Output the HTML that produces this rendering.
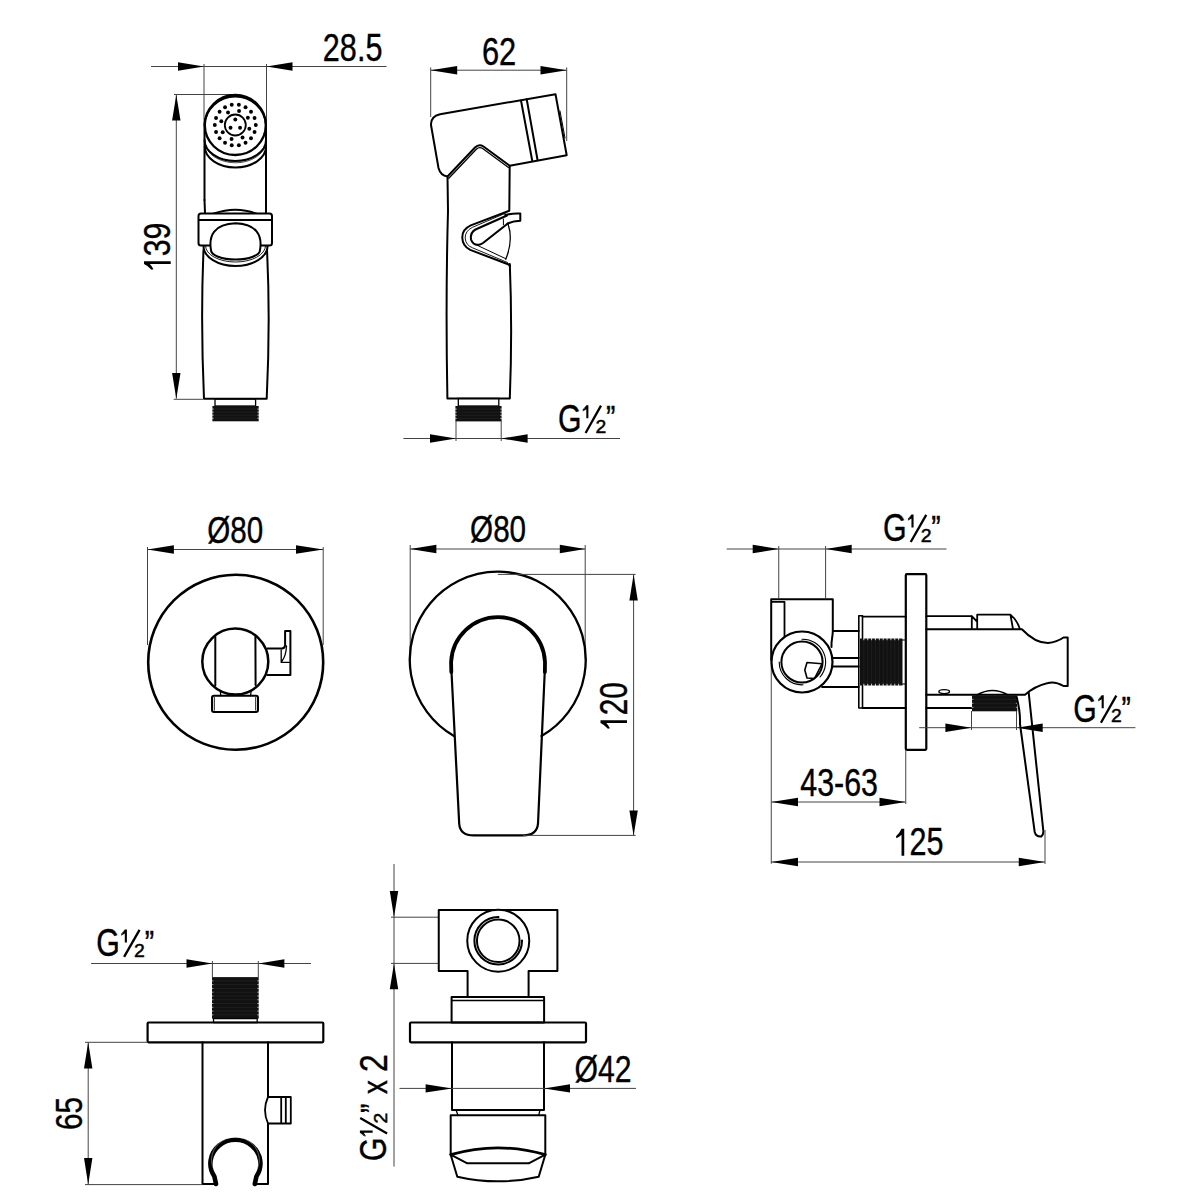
<!DOCTYPE html>
<html><head><meta charset="utf-8"><style>
html,body{margin:0;padding:0;background:#fff;width:1200px;height:1200px;overflow:hidden}
svg{display:block}
text{font-family:"Liberation Sans",sans-serif;fill:#000}
</style></head><body>
<svg width="1200" height="1200" viewBox="0 0 1200 1200">
<rect width="1200" height="1200" fill="#fff"/>
<line fill="none" stroke="#444" stroke-width="1" x1="151.00" y1="66.50" x2="386.50" y2="66.50"/>
<polygon points="204.00,66.50 178.00,70.70 178.00,62.30" fill="#000"/>
<polygon points="266.50,66.50 292.50,62.30 292.50,70.70" fill="#000"/>
<line fill="none" stroke="#444" stroke-width="1" x1="204.00" y1="64.00" x2="204.00" y2="125.00"/>
<line fill="none" stroke="#444" stroke-width="1" x1="266.50" y1="64.00" x2="266.50" y2="125.00"/>
<text transform="translate(322.84 60.95) scale(0.3062 0.3796)" font-size="100" stroke="#000" stroke-width="1.02">28.5</text>
<line fill="none" stroke="#444" stroke-width="1" x1="176.30" y1="94.80" x2="176.30" y2="398.70"/>
<polygon points="176.30,94.80 180.50,120.50 172.10,120.50" fill="#000"/>
<polygon points="176.30,398.70 172.10,373.00 180.50,373.00" fill="#000"/>
<line fill="none" stroke="#444" stroke-width="1" x1="174.00" y1="94.50" x2="235.00" y2="94.50"/>
<line fill="none" stroke="#444" stroke-width="1" x1="173.70" y1="399.30" x2="203.00" y2="399.30"/>
<text transform="translate(170.45 256.34) rotate(-90) scale(0.3034 0.3754)" font-size="100" stroke="#000" stroke-width="1.03">39</text>
<path d=" M144.00,264.07 L144.00,261.30 L170.70,261.30 L170.70,264.07 L149.87,264.07 Q152.01,266.34 153.48,269.28 L151.48,269.70 Q148.54,266.17 144.00,264.07 Z" fill="#000"/>
<path fill="none" stroke="#000" stroke-linejoin="round" stroke-linecap="round" stroke-width="2" d="M204.5,200 L204.5,125 A30.8,30.3 0 0 1 266,125 L266,200" />
<ellipse cx="235.3" cy="125" rx="30.5" ry="30" fill="none" stroke="#000" stroke-linejoin="round" stroke-linecap="round" stroke-width="2.3"/>
<path fill="none" stroke="#000" stroke-linejoin="round" stroke-linecap="round" stroke-width="2" d="M204.6,140 A30.7,21 0 0 0 266,140" />
<path fill="none" stroke="#000" stroke-linejoin="round" stroke-linecap="round" stroke-width="2" d="M204.8,146.5 A30.6,21 0 0 0 266,146.5" />
<path fill="none" stroke="#000" stroke-linejoin="round" stroke-linecap="round" d="M205,143.5 A30.5,21 0 0 0 265.8,143.5" stroke-width="0.7"/>
<circle cx="235.3" cy="125" r="10.5" fill="none" stroke="#000" stroke-linejoin="round" stroke-linecap="round" stroke-width="1.8"/>
<circle cx="238.86" cy="104.81" r="1.95"/>
<circle cx="245.55" cy="107.25" r="1.95"/>
<circle cx="251.00" cy="111.82" r="1.95"/>
<circle cx="254.56" cy="117.99" r="1.95"/>
<circle cx="255.80" cy="125.00" r="1.95"/>
<circle cx="254.56" cy="132.01" r="1.95"/>
<circle cx="251.00" cy="138.18" r="1.95"/>
<circle cx="245.55" cy="142.75" r="1.95"/>
<circle cx="238.86" cy="145.19" r="1.95"/>
<circle cx="231.74" cy="145.19" r="1.95"/>
<circle cx="225.05" cy="142.75" r="1.95"/>
<circle cx="219.60" cy="138.18" r="1.95"/>
<circle cx="216.04" cy="132.01" r="1.95"/>
<circle cx="214.80" cy="125.00" r="1.95"/>
<circle cx="216.04" cy="117.99" r="1.95"/>
<circle cx="219.60" cy="111.82" r="1.95"/>
<circle cx="225.05" cy="107.25" r="1.95"/>
<circle cx="231.74" cy="104.81" r="1.95"/>
<circle cx="239.05" cy="110.99" r="1.95"/>
<circle cx="247.86" cy="117.75" r="1.95"/>
<circle cx="249.31" cy="128.75" r="1.95"/>
<circle cx="242.55" cy="137.56" r="1.95"/>
<circle cx="231.55" cy="139.01" r="1.95"/>
<circle cx="222.74" cy="132.25" r="1.95"/>
<circle cx="221.29" cy="121.25" r="1.95"/>
<circle cx="228.05" cy="112.44" r="1.95"/>
<circle cx="235.30" cy="119.50" r="1.95"/>
<circle cx="240.06" cy="127.75" r="1.95"/>
<circle cx="230.54" cy="127.75" r="1.95"/>
<path fill="none" stroke="#000" stroke-linejoin="round" stroke-linecap="round" stroke-width="2" d="M204.5,200 L205,213.5" />
<path fill="none" stroke="#000" stroke-linejoin="round" stroke-linecap="round" stroke-width="2" d="M266,200 L266,213.5" />
<path fill="none" stroke="#000" stroke-linejoin="round" stroke-linecap="round" stroke-width="2" d="M214,213.5 Q235.5,206 256,213.5" />
<path fill="none" stroke="#000" stroke-linejoin="round" stroke-linecap="round" stroke-width="2" d="M203.5,250 Q200.5,320 204,398.7 L266.7,398.7 Q270.5,320 267,250" />
<path fill="none" stroke="#000" stroke-linejoin="round" stroke-linecap="round" stroke-width="2" d="M203.5,246 A32,20 0 0 0 267.5,246" style="fill:#fff"/>
<path fill="none" stroke="#000" stroke-linejoin="round" stroke-linecap="round" d="M205.5,246 A30,16 0 0 0 265.5,246" stroke-width="0.9"/>
<rect x="198.5" y="213.5" width="73.5" height="32" rx="2.5" fill="none" stroke="#000" stroke-linejoin="round" stroke-linecap="round" stroke-width="2" style="fill:#fff"/>
<path fill="none" stroke="#000" stroke-linejoin="round" stroke-linecap="round" stroke-width="2" d="M199,220 L271.5,220" />
<path fill="none" stroke="#000" stroke-linejoin="round" stroke-linecap="round" stroke-width="2" d="M211,250 C208.5,236 214,224 235.5,223.3 C257,224 262.5,236 260,250 A24.5,9.5 0 0 1 211,250 Z" style="fill:#fff"/>
<rect x="215" y="399" width="40.6" height="7" fill="none" stroke="#000" stroke-width="1.3"/>
<rect x="212.40" y="406.00" width="46.30" height="15.30" fill="#111"/>
<line x1="211.90" y1="409.06" x2="213.90" y2="409.06" stroke="#fff" stroke-width="0.6"/>
<line x1="257.20" y1="409.06" x2="259.20" y2="409.06" stroke="#fff" stroke-width="0.6"/>
<line x1="214.40" y1="409.06" x2="256.70" y2="409.06" stroke="#333" stroke-width="0.4"/>
<line x1="211.90" y1="412.12" x2="213.90" y2="412.12" stroke="#fff" stroke-width="0.6"/>
<line x1="257.20" y1="412.12" x2="259.20" y2="412.12" stroke="#fff" stroke-width="0.6"/>
<line x1="214.40" y1="412.12" x2="256.70" y2="412.12" stroke="#333" stroke-width="0.4"/>
<line x1="211.90" y1="415.18" x2="213.90" y2="415.18" stroke="#fff" stroke-width="0.6"/>
<line x1="257.20" y1="415.18" x2="259.20" y2="415.18" stroke="#fff" stroke-width="0.6"/>
<line x1="214.40" y1="415.18" x2="256.70" y2="415.18" stroke="#333" stroke-width="0.4"/>
<line x1="211.90" y1="418.24" x2="213.90" y2="418.24" stroke="#fff" stroke-width="0.6"/>
<line x1="257.20" y1="418.24" x2="259.20" y2="418.24" stroke="#fff" stroke-width="0.6"/>
<line x1="214.40" y1="418.24" x2="256.70" y2="418.24" stroke="#333" stroke-width="0.4"/>
<line fill="none" stroke="#444" stroke-width="1" x1="430.70" y1="70.20" x2="566.70" y2="70.20"/>
<polygon points="430.70,70.20 457.20,66.00 457.20,74.40" fill="#000"/>
<polygon points="566.70,70.20 540.50,74.40 540.50,66.00" fill="#000"/>
<line fill="none" stroke="#444" stroke-width="1" x1="430.70" y1="67.50" x2="430.70" y2="117.00"/>
<line fill="none" stroke="#444" stroke-width="1" x1="566.70" y1="67.50" x2="566.70" y2="141.00"/>
<text transform="translate(481.88 64.70) scale(0.3084 0.3789)" font-size="100" stroke="#000" stroke-width="1.02">62</text>
<path fill="none" stroke="#000" stroke-linejoin="round" stroke-linecap="round" stroke-width="2" d="M555.5,94.2 L440,114.2 Q430.5,116.5 431,125 L438.5,168 Q440.5,175.5 447.5,176.5 L475,147.5 Q479,143.5 483.5,146.5 L509.7,165.7 L566.7,155.2 Z" />
<path fill="none" stroke="#000" stroke-linejoin="round" stroke-linecap="round" d="M448.8,178.3 L476.3,149.2 Q479.2,146.5 482.3,148.3 L508.5,167.5" stroke-width="1.3"/>
<path fill="none" stroke="#000" stroke-linejoin="round" stroke-linecap="round" stroke-width="2" d="M521,100.5 L532.2,160.5" />
<path fill="none" stroke="#000" stroke-linejoin="round" stroke-linecap="round" stroke-width="2" d="M526.7,99.3 L537.5,159.7" />
<path fill="none" stroke="#000" stroke-linejoin="round" stroke-linecap="round" d="M560,111 L565,138" stroke-width="1"/>
<path fill="none" stroke="#000" stroke-linejoin="round" stroke-linecap="round" stroke-width="2" d="M447.5,176.5 L448,211 Q445.5,300 447.4,398.4 L509.8,398.4 Q512.5,330 509.8,264" />
<path fill="none" stroke="#000" stroke-linejoin="round" stroke-linecap="round" stroke-width="2" d="M509.7,165.7 L509.3,210.8 L470.75,225.4 Q462,229.5 462.3,237.7 Q462.5,246 470.2,249.9 L508.7,264.5 L510,266" />
<path fill="none" stroke="#000" stroke-linejoin="round" stroke-linecap="round" d="M505.5,213.2 L472.5,227.3 Q465,231 465.2,238 Q465.5,245 472.5,247.8 L507.5,262.5" stroke-width="0.9"/>
<path fill="none" stroke="#000" stroke-linejoin="round" stroke-linecap="round" d="M507,215.5 L475.5,229.5 Q470,232.5 471,239.5 Q473,245.5 479,244.8 Q481,244.5 483,243 L507.5,223.7" stroke-width="2.1"/>
<path fill="none" stroke="#000" stroke-linejoin="round" stroke-linecap="round" d="M505.2,215 Q513,213 520.3,213.5 L520.3,220.75 Q513,221 507.5,223.7" stroke-width="2"/>
<path fill="none" stroke="#000" stroke-linejoin="round" stroke-linecap="round" d="M503.4,219 L503.4,224.8" stroke-width="1"/>
<path fill="none" stroke="#000" stroke-linejoin="round" stroke-linecap="round" d="M508.1,224.25 Q513.5,240 505.75,259.25" stroke-width="1.3"/>
<path fill="none" stroke="#000" stroke-linejoin="round" stroke-linecap="round" d="M478.3,245.8 L505.75,258.7" stroke-width="1"/>
<rect x="458.3" y="398.4" width="40.5" height="7.6" fill="none" stroke="#000" stroke-width="1.3"/>
<rect x="455.40" y="406.00" width="46.20" height="15.40" fill="#111"/>
<line x1="454.90" y1="409.08" x2="456.90" y2="409.08" stroke="#fff" stroke-width="0.6"/>
<line x1="500.10" y1="409.08" x2="502.10" y2="409.08" stroke="#fff" stroke-width="0.6"/>
<line x1="457.40" y1="409.08" x2="499.60" y2="409.08" stroke="#333" stroke-width="0.4"/>
<line x1="454.90" y1="412.16" x2="456.90" y2="412.16" stroke="#fff" stroke-width="0.6"/>
<line x1="500.10" y1="412.16" x2="502.10" y2="412.16" stroke="#fff" stroke-width="0.6"/>
<line x1="457.40" y1="412.16" x2="499.60" y2="412.16" stroke="#333" stroke-width="0.4"/>
<line x1="454.90" y1="415.24" x2="456.90" y2="415.24" stroke="#fff" stroke-width="0.6"/>
<line x1="500.10" y1="415.24" x2="502.10" y2="415.24" stroke="#fff" stroke-width="0.6"/>
<line x1="457.40" y1="415.24" x2="499.60" y2="415.24" stroke="#333" stroke-width="0.4"/>
<line x1="454.90" y1="418.32" x2="456.90" y2="418.32" stroke="#fff" stroke-width="0.6"/>
<line x1="500.10" y1="418.32" x2="502.10" y2="418.32" stroke="#fff" stroke-width="0.6"/>
<line x1="457.40" y1="418.32" x2="499.60" y2="418.32" stroke="#333" stroke-width="0.4"/>
<line fill="none" stroke="#444" stroke-width="1" x1="403.40" y1="438.50" x2="620.00" y2="438.50"/>
<polygon points="456.00,438.50 430.00,442.70 430.00,434.30" fill="#000"/>
<polygon points="501.20,438.50 527.60,434.30 527.60,442.70" fill="#000"/>
<line fill="none" stroke="#444" stroke-width="1" x1="456.00" y1="421.00" x2="456.00" y2="441.00"/>
<line fill="none" stroke="#444" stroke-width="1" x1="501.20" y1="421.00" x2="501.20" y2="441.00"/>
<text transform="translate(557.96 432.14) scale(0.3023 0.3852)" font-size="100" stroke="#000" stroke-width="1.02">G</text>
<polygon points="586.30,405.30 588.40,405.30 588.40,418.30 586.30,418.30 586.30,409.20 582.80,411.60" fill="#000"/>
<polygon points="586.30,405.30 582.80,409.60 582.80,411.60" fill="#000"/>
<text transform="translate(595.58 432.75) scale(0.1935 0.1886)" font-size="100" stroke="#000" stroke-width="2.62">2</text>
<line x1="585.60" y1="433.00" x2="601.00" y2="405.60" stroke="#000" stroke-width="2.30"/>
<text transform="translate(606.08 429.90) scale(0.2808 0.3435)" font-size="100" stroke="#000" stroke-width="1.28">”</text>
<line fill="none" stroke="#444" stroke-width="1" x1="147.50" y1="549.50" x2="323.20" y2="549.50"/>
<polygon points="147.50,549.50 173.90,545.30 173.90,553.70" fill="#000"/>
<polygon points="323.20,549.50 296.00,553.70 296.00,545.30" fill="#000"/>
<line fill="none" stroke="#444" stroke-width="1" x1="147.50" y1="547.00" x2="147.50" y2="645.00"/>
<line fill="none" stroke="#444" stroke-width="1" x1="323.20" y1="547.00" x2="323.20" y2="645.00"/>
<text transform="translate(207.19 543.13) scale(0.2959 0.3647)" font-size="100" stroke="#000" stroke-width="1.06">Ø80</text>
<circle cx="235.7" cy="662.3" r="87.5" fill="none" stroke="#000" stroke-linejoin="round" stroke-linecap="round" stroke-width="2.6"/>
<circle cx="235.3" cy="661.6" r="33" fill="none" stroke="#000" stroke-linejoin="round" stroke-linecap="round" stroke-width="2.5"/>
<path fill="none" stroke="#000" stroke-linejoin="round" stroke-linecap="round" stroke-width="2" d="M215.3,637 L215.3,685.6" />
<path fill="none" stroke="#000" stroke-linejoin="round" stroke-linecap="round" stroke-width="2" d="M255.4,637 L255.6,685" />
<path fill="none" stroke="#000" stroke-linejoin="round" stroke-linecap="round" stroke-width="2" d="M267.5,648.4 L282,648.4 Q284.6,648.2 285.1,645.5 M285.1,631 L290.4,631 L290.4,675.1 L267.5,675.1 M285.1,631 L285.1,645.5" />
<path fill="none" stroke="#000" stroke-linejoin="round" stroke-linecap="round" d="M281.2,650 L281.2,662.4 L289.5,662.4 M286.5,646 Q286,656 282,661" stroke-width="1.3"/>
<rect x="212" y="695.7" width="46" height="16.2" rx="2" fill="none" stroke="#000" stroke-linejoin="round" stroke-linecap="round" stroke-width="2"/>
<path fill="none" stroke="#000" stroke-linejoin="round" stroke-linecap="round" d="M214.3,697.5 L214.3,710.2 M255.7,697.5 L255.7,710.2" stroke-width="0.9"/>
<path fill="none" stroke="#000" stroke-linejoin="round" stroke-linecap="round" d="M220.4,692 L220.8,695.7 M251,692 L250.6,695.7" stroke-width="1.3"/>
<line fill="none" stroke="#444" stroke-width="1" x1="410.20" y1="549.00" x2="585.20" y2="549.00"/>
<polygon points="410.20,549.00 436.40,544.80 436.40,553.20" fill="#000"/>
<polygon points="585.20,549.00 559.80,553.20 559.80,544.80" fill="#000"/>
<line fill="none" stroke="#444" stroke-width="1" x1="410.20" y1="545.00" x2="410.20" y2="660.00"/>
<line fill="none" stroke="#444" stroke-width="1" x1="585.20" y1="545.00" x2="585.20" y2="660.00"/>
<text transform="translate(470.09 542.03) scale(0.2964 0.3660)" font-size="100" stroke="#000" stroke-width="1.06">Ø80</text>
<path fill="none" stroke="#000" stroke-linejoin="round" stroke-linecap="round" d="M454,736 A88,88 0 1 1 541.5,736" stroke-width="2.3"/>
<path fill="none" stroke="#000" stroke-linejoin="round" stroke-linecap="round" d="M451.3,672 L451.1,662 A47,47 0 0 1 545,662 L544.9,672" stroke-width="3.8" stroke-linecap="butt"/>
<path fill="none" stroke="#000" stroke-linejoin="round" stroke-linecap="round" d="M451.3,668 L459.2,823.7 Q460,835.4 473.8,835.4 L523.3,835.4 Q537,835.4 538,823.7 L544.9,668" stroke-width="2.2"/>
<line fill="none" stroke="#444" stroke-width="1" x1="633.60" y1="574.40" x2="633.60" y2="835.40"/>
<polygon points="633.60,574.40 637.80,600.60 629.40,600.60" fill="#000"/>
<polygon points="633.60,835.40 629.40,810.60 637.80,810.60" fill="#000"/>
<line fill="none" stroke="#444" stroke-width="1" x1="497.80" y1="574.40" x2="635.60" y2="574.40"/>
<line fill="none" stroke="#444" stroke-width="1" x1="523.00" y1="835.40" x2="635.60" y2="835.40"/>
<text transform="translate(627.20 715.32) rotate(-90) scale(0.2980 0.3789)" font-size="100" stroke="#000" stroke-width="1.03">20</text>
<path d=" M600.50,723.05 L600.50,720.25 L627.00,720.25 L627.00,723.05 L606.33,723.05 Q608.45,725.35 609.91,728.33 L607.92,728.75 Q605.00,725.18 600.50,723.05 Z" fill="#000"/>
<line fill="none" stroke="#444" stroke-width="1" x1="726.70" y1="549.00" x2="946.50" y2="549.00"/>
<polygon points="778.75,549.00 752.70,553.20 752.70,544.80" fill="#000"/>
<polygon points="825.60,549.00 851.70,544.80 851.70,553.20" fill="#000"/>
<line fill="none" stroke="#444" stroke-width="1" x1="778.75" y1="546.00" x2="778.75" y2="598.00"/>
<line fill="none" stroke="#444" stroke-width="1" x1="825.60" y1="546.00" x2="825.60" y2="598.00"/>
<text transform="translate(882.96 541.15) scale(0.3040 0.3811)" font-size="100" stroke="#000" stroke-width="1.02">G</text>
<polygon points="911.45,514.60 913.56,514.60 913.56,527.46 911.45,527.46 911.45,518.46 907.93,520.83" fill="#000"/>
<polygon points="911.45,514.60 907.93,518.85 907.93,520.83" fill="#000"/>
<text transform="translate(920.78 541.75) scale(0.1946 0.1865)" font-size="100" stroke="#000" stroke-width="2.62">2</text>
<line x1="910.74" y1="542.00" x2="926.23" y2="514.89" stroke="#000" stroke-width="2.31"/>
<text transform="translate(931.33 538.93) scale(0.2824 0.3397)" font-size="100" stroke="#000" stroke-width="1.29">”</text>
<path fill="none" stroke="#000" stroke-linejoin="round" stroke-linecap="round" stroke-width="2" d="M771.2,660 L771.2,599.2 L832.8,599.2 L832.8,631 C832.8,637 831,641 831.5,647" stroke-linejoin="miter"/>
<path fill="none" stroke="#000" stroke-linejoin="round" stroke-linecap="round" d="M772,601.8 L784.5,601.8 L784.5,636" stroke-width="1.8"/>
<line fill="none" stroke="#444" stroke-width="1" x1="771.25" y1="660.00" x2="771.25" y2="863.75"/>
<path fill="none" stroke="#000" stroke-linejoin="round" stroke-linecap="round" d="M832.8,631 L858.8,631 M832,658 L858.8,658 M832.5,666.5 L858.8,666.5 M822,687 L858.8,687" stroke-width="1.8"/>
<circle cx="802" cy="662" r="30.5" fill="none" stroke="#000" stroke-linejoin="round" stroke-linecap="round" style="fill:#fff" stroke-width="2.2"/>
<circle cx="802" cy="662" r="20.6" fill="none" stroke="#000" stroke-linejoin="round" stroke-linecap="round" stroke-width="2"/>
<path fill="none" stroke="#000" stroke-linejoin="round" stroke-linecap="round" d="M802,639.2 A22.8,22.8 0 0 1 820,677" stroke-width="1.1"/>
<path fill="none" stroke="#000" stroke-linejoin="round" stroke-linecap="round" d="M779.2,662 A22.8,22.8 0 0 0 803,684.8" stroke-width="1.1"/>
<path fill="none" stroke="#000" stroke-linejoin="round" stroke-linecap="round" d="M807,662.5 L822,663.8 L814.5,678.5 L807,678 L804.8,670 Z" stroke-width="1.6"/>
<rect x="858.8" y="615.8" width="3.7" height="92.2" fill="none" stroke="#000" stroke-linejoin="round" stroke-linecap="round" stroke-width="1.6"/>
<path fill="none" stroke="#000" stroke-linejoin="round" stroke-linecap="round" d="M862.5,616.6 L905.8,616.6 M862.5,708 L905.8,708" stroke-width="1.8"/>
<rect x="860.00" y="638.50" width="42.50" height="47.00" fill="#111"/>
<line x1="863.86" y1="638.00" x2="863.86" y2="640.30" stroke="#fff" stroke-width="0.8"/>
<line x1="863.86" y1="683.70" x2="863.86" y2="686.00" stroke="#fff" stroke-width="0.8"/>
<line x1="863.86" y1="640.50" x2="863.86" y2="683.50" stroke="#333" stroke-width="0.4"/>
<line x1="867.73" y1="638.00" x2="867.73" y2="640.30" stroke="#fff" stroke-width="0.8"/>
<line x1="867.73" y1="683.70" x2="867.73" y2="686.00" stroke="#fff" stroke-width="0.8"/>
<line x1="867.73" y1="640.50" x2="867.73" y2="683.50" stroke="#333" stroke-width="0.4"/>
<line x1="871.59" y1="638.00" x2="871.59" y2="640.30" stroke="#fff" stroke-width="0.8"/>
<line x1="871.59" y1="683.70" x2="871.59" y2="686.00" stroke="#fff" stroke-width="0.8"/>
<line x1="871.59" y1="640.50" x2="871.59" y2="683.50" stroke="#333" stroke-width="0.4"/>
<line x1="875.45" y1="638.00" x2="875.45" y2="640.30" stroke="#fff" stroke-width="0.8"/>
<line x1="875.45" y1="683.70" x2="875.45" y2="686.00" stroke="#fff" stroke-width="0.8"/>
<line x1="875.45" y1="640.50" x2="875.45" y2="683.50" stroke="#333" stroke-width="0.4"/>
<line x1="879.32" y1="638.00" x2="879.32" y2="640.30" stroke="#fff" stroke-width="0.8"/>
<line x1="879.32" y1="683.70" x2="879.32" y2="686.00" stroke="#fff" stroke-width="0.8"/>
<line x1="879.32" y1="640.50" x2="879.32" y2="683.50" stroke="#333" stroke-width="0.4"/>
<line x1="883.18" y1="638.00" x2="883.18" y2="640.30" stroke="#fff" stroke-width="0.8"/>
<line x1="883.18" y1="683.70" x2="883.18" y2="686.00" stroke="#fff" stroke-width="0.8"/>
<line x1="883.18" y1="640.50" x2="883.18" y2="683.50" stroke="#333" stroke-width="0.4"/>
<line x1="887.05" y1="638.00" x2="887.05" y2="640.30" stroke="#fff" stroke-width="0.8"/>
<line x1="887.05" y1="683.70" x2="887.05" y2="686.00" stroke="#fff" stroke-width="0.8"/>
<line x1="887.05" y1="640.50" x2="887.05" y2="683.50" stroke="#333" stroke-width="0.4"/>
<line x1="890.91" y1="638.00" x2="890.91" y2="640.30" stroke="#fff" stroke-width="0.8"/>
<line x1="890.91" y1="683.70" x2="890.91" y2="686.00" stroke="#fff" stroke-width="0.8"/>
<line x1="890.91" y1="640.50" x2="890.91" y2="683.50" stroke="#333" stroke-width="0.4"/>
<line x1="894.77" y1="638.00" x2="894.77" y2="640.30" stroke="#fff" stroke-width="0.8"/>
<line x1="894.77" y1="683.70" x2="894.77" y2="686.00" stroke="#fff" stroke-width="0.8"/>
<line x1="894.77" y1="640.50" x2="894.77" y2="683.50" stroke="#333" stroke-width="0.4"/>
<line x1="898.64" y1="638.00" x2="898.64" y2="640.30" stroke="#fff" stroke-width="0.8"/>
<line x1="898.64" y1="683.70" x2="898.64" y2="686.00" stroke="#fff" stroke-width="0.8"/>
<line x1="898.64" y1="640.50" x2="898.64" y2="683.50" stroke="#333" stroke-width="0.4"/>
<path fill="none" stroke="#000" stroke-linejoin="round" stroke-linecap="round" d="M902.5,640 L905.8,640 M902.5,684 L905.8,684" stroke-width="1.2"/>
<rect x="905.8" y="574.2" width="20.5" height="175.6" rx="1" fill="none" stroke="#000" stroke-linejoin="round" stroke-linecap="round" stroke-width="2.2"/>
<path fill="none" stroke="#000" stroke-linejoin="round" stroke-linecap="round" d="M926.3,616.2 L971.8,616.2 L971.8,629 M971.8,616.2 L976.5,621 M977.2,629 L977.2,614.6 L1010.4,614.6 Q1017,620 1019.8,628.8 M1010.4,614.6 L1013,629" stroke-width="1.8"/>
<path fill="none" stroke="#000" stroke-linejoin="round" stroke-linecap="round" d="M926.3,629.2 L1021.9,629.2 Q1035,643 1047.9,643 Q1057,642 1063.5,637.5 L1067.7,637.5 L1067.7,686 L1063.5,686 Q1055,681 1047.9,683 Q1035,686 1025,694.7 L926.3,694.7" stroke-width="2"/>
<path fill="none" stroke="#000" stroke-linejoin="round" stroke-linecap="round" d="M926.3,708 L971.9,708" stroke-width="2"/>
<path fill="none" stroke="#000" stroke-linejoin="round" stroke-linecap="round" d="M977,695 Q992.5,686 1008,695" stroke-width="1.6"/>
<ellipse cx="944.2" cy="691.6" rx="5.3" ry="2" fill="none" stroke="#000" stroke-width="1.4"/>
<rect x="972.00" y="695.30" width="45.30" height="16.00" fill="#111"/>
<line x1="971.50" y1="699.30" x2="973.50" y2="699.30" stroke="#fff" stroke-width="0.6"/>
<line x1="1015.80" y1="699.30" x2="1017.80" y2="699.30" stroke="#fff" stroke-width="0.6"/>
<line x1="974.00" y1="699.30" x2="1015.30" y2="699.30" stroke="#333" stroke-width="0.4"/>
<line x1="971.50" y1="703.30" x2="973.50" y2="703.30" stroke="#fff" stroke-width="0.6"/>
<line x1="1015.80" y1="703.30" x2="1017.80" y2="703.30" stroke="#fff" stroke-width="0.6"/>
<line x1="974.00" y1="703.30" x2="1015.30" y2="703.30" stroke="#333" stroke-width="0.4"/>
<line x1="971.50" y1="707.30" x2="973.50" y2="707.30" stroke="#fff" stroke-width="0.6"/>
<line x1="1015.80" y1="707.30" x2="1017.80" y2="707.30" stroke="#fff" stroke-width="0.6"/>
<line x1="974.00" y1="707.30" x2="1015.30" y2="707.30" stroke="#333" stroke-width="0.4"/>
<path fill="none" stroke="#000" stroke-linejoin="round" stroke-linecap="round" d="M1016.7,697.3 Q1020.5,712 1020,724 L1034.7,832 Q1036,837 1041.3,836.5 Q1043.8,834 1043.3,830.7 L1028.7,692.7" stroke-width="2"/>
<line fill="none" stroke="#444" stroke-width="1" x1="919.20" y1="727.70" x2="1135.40" y2="727.70"/>
<polygon points="971.50,727.70 945.40,731.90 945.40,723.50" fill="#000"/>
<polygon points="1016.80,727.70 1042.70,723.50 1042.70,731.90" fill="#000"/>
<line fill="none" stroke="#444" stroke-width="1" x1="971.50" y1="711.00" x2="971.50" y2="730.00"/>
<line fill="none" stroke="#444" stroke-width="1" x1="1016.50" y1="711.00" x2="1016.50" y2="730.00"/>
<text transform="translate(1073.37 721.85) scale(0.3018 0.3811)" font-size="100" stroke="#000" stroke-width="1.03">G</text>
<polygon points="1101.65,695.30 1103.75,695.30 1103.75,708.16 1101.65,708.16 1101.65,699.16 1098.16,701.53" fill="#000"/>
<polygon points="1101.65,695.30 1098.16,699.55 1098.16,701.53" fill="#000"/>
<text transform="translate(1110.92 722.45) scale(0.1931 0.1865)" font-size="100" stroke="#000" stroke-width="2.63">2</text>
<line x1="1100.95" y1="722.70" x2="1116.32" y2="695.59" stroke="#000" stroke-width="2.30"/>
<text transform="translate(1121.39 719.63) scale(0.2802 0.3397)" font-size="100" stroke="#000" stroke-width="1.29">”</text>
<line fill="none" stroke="#444" stroke-width="1" x1="771.25" y1="802.00" x2="905.75" y2="802.00"/>
<polygon points="771.25,802.00 798.00,797.80 798.00,806.20" fill="#000"/>
<polygon points="905.75,802.00 879.50,806.20 879.50,797.80" fill="#000"/>
<line fill="none" stroke="#444" stroke-width="1" x1="905.75" y1="750.00" x2="905.75" y2="804.00"/>
<text transform="translate(800.27 795.74) scale(0.3038 0.3838)" font-size="100" stroke="#000" stroke-width="1.02">43-63</text>
<line fill="none" stroke="#444" stroke-width="1" x1="771.25" y1="862.00" x2="1045.00" y2="862.00"/>
<polygon points="771.25,862.00 798.00,857.80 798.00,866.20" fill="#000"/>
<polygon points="1045.00,862.00 1018.75,866.20 1018.75,857.80" fill="#000"/>
<line fill="none" stroke="#444" stroke-width="1" x1="1045.00" y1="830.00" x2="1045.00" y2="864.00"/>
<text transform="translate(909.40 855.45) scale(0.3054 0.3789)" font-size="100" stroke="#000" stroke-width="1.02">25</text>
<path d=" M901.53,828.75 L904.25,828.75 L904.25,855.75 L901.53,855.75 L901.53,834.69 Q899.30,836.85 896.41,838.34 L896.00,836.31 Q899.47,833.34 901.53,828.75 Z" fill="#000"/>
<text transform="translate(96.36 956.05) scale(0.3034 0.3797)" font-size="100" stroke="#000" stroke-width="1.02">G</text>
<polygon points="124.80,929.60 126.91,929.60 126.91,942.41 124.80,942.41 124.80,933.44 121.28,935.81" fill="#000"/>
<polygon points="124.80,929.60 121.28,933.83 121.28,935.81" fill="#000"/>
<text transform="translate(134.11 956.65) scale(0.1942 0.1858)" font-size="100" stroke="#000" stroke-width="2.63">2</text>
<line x1="124.09" y1="956.90" x2="139.55" y2="929.89" stroke="#000" stroke-width="2.31"/>
<text transform="translate(144.64 953.83) scale(0.2818 0.3384)" font-size="100" stroke="#000" stroke-width="1.29">”</text>
<line fill="none" stroke="#444" stroke-width="1" x1="91.10" y1="963.50" x2="311.00" y2="963.50"/>
<polygon points="212.40,963.50 186.50,967.70 186.50,959.30" fill="#000"/>
<polygon points="258.40,963.50 284.40,959.30 284.40,967.70" fill="#000"/>
<line fill="none" stroke="#444" stroke-width="1" x1="212.40" y1="961.00" x2="212.40" y2="977.00"/>
<line fill="none" stroke="#444" stroke-width="1" x1="258.30" y1="961.00" x2="258.30" y2="977.00"/>
<rect x="212.00" y="977.10" width="46.70" height="41.50" fill="#111"/>
<line x1="211.50" y1="980.87" x2="213.50" y2="980.87" stroke="#fff" stroke-width="0.6"/>
<line x1="257.20" y1="980.87" x2="259.20" y2="980.87" stroke="#fff" stroke-width="0.6"/>
<line x1="214.00" y1="980.87" x2="256.70" y2="980.87" stroke="#333" stroke-width="0.4"/>
<line x1="211.50" y1="984.65" x2="213.50" y2="984.65" stroke="#fff" stroke-width="0.6"/>
<line x1="257.20" y1="984.65" x2="259.20" y2="984.65" stroke="#fff" stroke-width="0.6"/>
<line x1="214.00" y1="984.65" x2="256.70" y2="984.65" stroke="#333" stroke-width="0.4"/>
<line x1="211.50" y1="988.42" x2="213.50" y2="988.42" stroke="#fff" stroke-width="0.6"/>
<line x1="257.20" y1="988.42" x2="259.20" y2="988.42" stroke="#fff" stroke-width="0.6"/>
<line x1="214.00" y1="988.42" x2="256.70" y2="988.42" stroke="#333" stroke-width="0.4"/>
<line x1="211.50" y1="992.19" x2="213.50" y2="992.19" stroke="#fff" stroke-width="0.6"/>
<line x1="257.20" y1="992.19" x2="259.20" y2="992.19" stroke="#fff" stroke-width="0.6"/>
<line x1="214.00" y1="992.19" x2="256.70" y2="992.19" stroke="#333" stroke-width="0.4"/>
<line x1="211.50" y1="995.96" x2="213.50" y2="995.96" stroke="#fff" stroke-width="0.6"/>
<line x1="257.20" y1="995.96" x2="259.20" y2="995.96" stroke="#fff" stroke-width="0.6"/>
<line x1="214.00" y1="995.96" x2="256.70" y2="995.96" stroke="#333" stroke-width="0.4"/>
<line x1="211.50" y1="999.74" x2="213.50" y2="999.74" stroke="#fff" stroke-width="0.6"/>
<line x1="257.20" y1="999.74" x2="259.20" y2="999.74" stroke="#fff" stroke-width="0.6"/>
<line x1="214.00" y1="999.74" x2="256.70" y2="999.74" stroke="#333" stroke-width="0.4"/>
<line x1="211.50" y1="1003.51" x2="213.50" y2="1003.51" stroke="#fff" stroke-width="0.6"/>
<line x1="257.20" y1="1003.51" x2="259.20" y2="1003.51" stroke="#fff" stroke-width="0.6"/>
<line x1="214.00" y1="1003.51" x2="256.70" y2="1003.51" stroke="#333" stroke-width="0.4"/>
<line x1="211.50" y1="1007.28" x2="213.50" y2="1007.28" stroke="#fff" stroke-width="0.6"/>
<line x1="257.20" y1="1007.28" x2="259.20" y2="1007.28" stroke="#fff" stroke-width="0.6"/>
<line x1="214.00" y1="1007.28" x2="256.70" y2="1007.28" stroke="#333" stroke-width="0.4"/>
<line x1="211.50" y1="1011.05" x2="213.50" y2="1011.05" stroke="#fff" stroke-width="0.6"/>
<line x1="257.20" y1="1011.05" x2="259.20" y2="1011.05" stroke="#fff" stroke-width="0.6"/>
<line x1="214.00" y1="1011.05" x2="256.70" y2="1011.05" stroke="#333" stroke-width="0.4"/>
<line x1="211.50" y1="1014.83" x2="213.50" y2="1014.83" stroke="#fff" stroke-width="0.6"/>
<line x1="257.20" y1="1014.83" x2="259.20" y2="1014.83" stroke="#fff" stroke-width="0.6"/>
<line x1="214.00" y1="1014.83" x2="256.70" y2="1014.83" stroke="#333" stroke-width="0.4"/>
<rect x="213.5" y="1018.6" width="43.7" height="3.9" fill="none" stroke="#000" stroke-linejoin="round" stroke-linecap="round" stroke-width="1.3"/>
<rect x="147.6" y="1022.5" width="175.7" height="19.8" rx="1" fill="none" stroke="#000" stroke-linejoin="round" stroke-linecap="round" stroke-width="2.2"/>
<path fill="none" stroke="#000" stroke-linejoin="round" stroke-linecap="round" d="M202.5,1042.3 L202.5,1184 L215.7,1184 M255.5,1184 L268,1184 L268,1123.5 M268,1097 L268,1042.3" stroke-width="2"/>
<path fill="none" stroke="#000" stroke-linejoin="round" stroke-linecap="round" d="M216,1184 L214.4,1176.5 A25,23.8 0 1 1 256.4,1176.5 L254.8,1184" stroke-width="4.6"/>
<path d="M216.8,1174 A23.9,22.6 0 1 1 254,1174" fill="none" stroke="#fff" stroke-width="0.5" opacity="0.7"/>
<path fill="none" stroke="#000" stroke-linejoin="round" stroke-linecap="round" d="M268,1097 L290.8,1097 L290.8,1123.5 L268,1123.5 Q262,1110 268,1097 M281.2,1097 L281.2,1123.5 M285.8,1097 L285.8,1123.5" stroke-width="1.8"/>
<line fill="none" stroke="#444" stroke-width="1" x1="88.20" y1="1042.30" x2="88.20" y2="1184.60"/>
<polygon points="88.20,1042.30 92.40,1068.60 84.00,1068.60" fill="#000"/>
<polygon points="88.20,1184.60 84.00,1158.00 92.40,1158.00" fill="#000"/>
<line fill="none" stroke="#444" stroke-width="1" x1="85.00" y1="1042.30" x2="147.60" y2="1042.30"/>
<line fill="none" stroke="#444" stroke-width="1" x1="85.00" y1="1184.60" x2="202.50" y2="1184.60"/>
<text transform="translate(82.45 1130.12) rotate(-90) scale(0.2985 0.3754)" font-size="100" stroke="#000" stroke-width="1.04">65</text>
<line fill="none" stroke="#444" stroke-width="1" x1="394.00" y1="864.00" x2="394.00" y2="1166.60"/>
<polygon points="394.00,917.20 389.80,891.00 398.20,891.00" fill="#000"/>
<polygon points="394.00,963.40 398.20,989.30 389.80,989.30" fill="#000"/>
<line fill="none" stroke="#444" stroke-width="1" x1="391.00" y1="917.20" x2="438.60" y2="917.20"/>
<line fill="none" stroke="#444" stroke-width="1" x1="391.00" y1="963.40" x2="438.60" y2="963.40"/>
<path fill="none" stroke="#000" stroke-linejoin="round" stroke-linecap="round" d="M467.6,997 L467.6,970.9 L438.75,970.9 L438.75,909.9 L557.4,909.9 L557.4,970.9 L528.6,970.9 L528.6,997" stroke-width="2"/>
<circle cx="498.25" cy="940.7" r="31" fill="none" stroke="#000" stroke-linejoin="round" stroke-linecap="round" style="fill:#fff" stroke-width="2"/>
<circle cx="498.25" cy="940.8" r="21.3" fill="none" stroke="#000" stroke-linejoin="round" stroke-linecap="round" stroke-width="2"/>
<path fill="none" stroke="#000" stroke-linejoin="round" stroke-linecap="round" d="M498.5,916.9 A23.8,23.8 0 1 0 522,940.5" stroke-width="2"/>
<rect x="451.6" y="997" width="92.5" height="25.5" fill="none" stroke="#000" stroke-linejoin="round" stroke-linecap="round" stroke-width="2"/>
<path fill="none" stroke="#000" stroke-linejoin="round" stroke-linecap="round" d="M452,1000.6 L544,1000.6" stroke-width="1.5"/>
<rect x="410" y="1022.5" width="176" height="19.8" rx="1" fill="none" stroke="#000" stroke-linejoin="round" stroke-linecap="round" stroke-width="2.2"/>
<path fill="none" stroke="#000" stroke-linejoin="round" stroke-linecap="round" d="M452,1042.3 L452,1110 L544,1110 L544,1042.3" stroke-width="2"/>
<path fill="none" stroke="#000" stroke-linejoin="round" stroke-linecap="round" d="M456,1110 L458,1115.3 M540,1110 L538.7,1115.3" stroke-width="1.3"/>
<path fill="none" stroke="#000" stroke-linejoin="round" stroke-linecap="round" d="M450.7,1154.7 L450.7,1115.3 L545.3,1115.3 L545.3,1154.7 L538.7,1176.7 A182,182 0 0 1 457.3,1176.7 Z M450.7,1154.7 L467.3,1163.3 L528.7,1163.3 L545.3,1154.7" stroke-width="2"/>
<path fill="none" stroke="#000" stroke-linejoin="round" stroke-linecap="round" d="M450.7,1154.7 A170,170 0 0 1 545.3,1154.7" stroke-width="2.8"/>
<line fill="none" stroke="#444" stroke-width="1" x1="399.50" y1="1088.40" x2="636.00" y2="1088.40"/>
<polygon points="452.00,1088.40 425.60,1092.60 425.60,1084.20" fill="#000"/>
<polygon points="544.00,1088.40 570.00,1084.20 570.00,1092.60" fill="#000"/>
<text transform="translate(574.57 1081.53) scale(0.3019 0.3660)" font-size="100" stroke="#000" stroke-width="1.05">Ø42</text>
<g transform="translate(359.6 1159.6) rotate(-90)">
<text transform="translate(-1.33 26.66) scale(0.3012 0.3783)" font-size="100" stroke="#000" stroke-width="1.03">G</text>
<polygon points="26.90,0.29 28.99,0.29 28.99,13.07 26.90,13.07 26.90,4.13 23.42,6.48" fill="#000"/>
<polygon points="26.90,0.29 23.42,4.52 23.42,6.48" fill="#000"/>
<text transform="translate(36.15 27.26) scale(0.1927 0.1851)" font-size="100" stroke="#000" stroke-width="2.65">2</text>
<line x1="26.21" y1="27.51" x2="41.55" y2="0.59" stroke="#000" stroke-width="2.29"/>
<text transform="translate(46.61 24.44) scale(0.2797 0.3371)" font-size="100" stroke="#000" stroke-width="1.30">”</text>
<text transform="translate(65.50 26.92) scale(0.2760 0.3575)" font-size="100" stroke="#000" stroke-width="1.10">x</text>
<text transform="translate(87.67 26.93) scale(0.3207 0.3821)" font-size="100" stroke="#000" stroke-width="1.00">2</text>
</g>
</svg></body></html>
